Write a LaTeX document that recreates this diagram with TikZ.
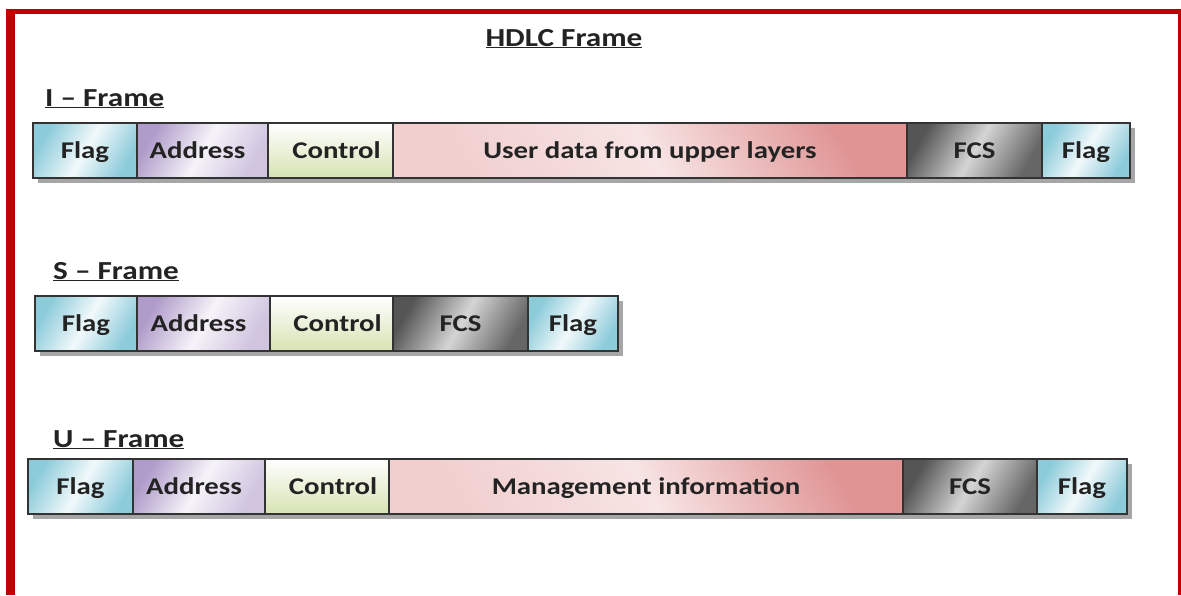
\documentclass[tikz,border=0pt]{standalone}
\usepackage{fontspec}
\setmainfont{Carlito}[FakeStretch=1.2]
\usetikzlibrary{shadows}

\definecolor{edge}{HTML}{C00000}
\definecolor{ink}{HTML}{232323}
\definecolor{flagc}{HTML}{8CCBDA}
\definecolor{addrc}{HTML}{B09CCA}
\definecolor{ctrlc}{HTML}{D6E3B2}
\definecolor{datac}{HTML}{E09494}
\definecolor{fcsc}{HTML}{555555}

\tikzset{
  txt/.style={font=\bfseries\fontsize{24}{26}\selectfont, text=ink},
  bigtxt/.style={font=\bfseries\fontsize{26}{28}\selectfont, text=ink},
  % move a field's text sideways by half the given amount
  textshift/.style={execute at begin node={\hspace*{#1}}},
  field/.style={txt, draw=black!80, line width=1.3pt, minimum height=55pt,
    anchor=north west, inner sep=0pt, outer sep=0pt, text height=15pt, text depth=0pt,
    drop shadow={shadow xshift=5pt, shadow yshift=-5pt, fill=gray!70, opacity=1}},
  flagf/.style={field, left color=flagc, right color=flagc, middle color=flagc!12, shading angle=60},
  addrf/.style={field, textshift=-10pt, left color=addrc, right color=addrc!60, middle color=addrc!12, shading angle=60},
  ctrlf/.style={field, textshift=12pt, top color=white, bottom color=ctrlc},
  dataf/.style={field, left color=datac!45, right color=datac, middle color=datac!25, shading angle=120},
  fcsf/.style={field, left color=fcsc, right color=fcsc!90, middle color=fcsc!25, shading angle=60},
  heading/.style={bigtxt, anchor=base west, inner sep=0pt}
}

\begin{document}
\begin{tikzpicture}[x=1pt, y=-1pt]
  \useasboundingbox (0,0) rectangle (1181,595);
  \fill[white] (0,0) rectangle (1181,595);

  % red page border (top, left, right)
  \draw[edge, line width=5pt] (6,11.5) -- (1181,11.5);
  \draw[edge, line width=9pt] (10.5,9) -- (10.5,595);
  \draw[edge, line width=4pt] (1179.5,9) -- (1179.5,595);

  % title
  \node[bigtxt, anchor=base, inner sep=0pt] (title) at (564,46) {\underline{HDLC Frame}};

  % I-frame
  \node[heading] (ilbl) at (45,106) {\underline{I – Frame}};
  \node[flagf, minimum width=104pt] (i1) at (33,123) {Flag};
  \node[addrf, minimum width=131pt] (i2) at (i1.north east) {Address};
  \node[ctrlf, minimum width=125pt] (i3) at (i2.north east) {Control};
  \node[dataf, minimum width=514pt] (i4) at (i3.north east) {User data from upper layers};
  \node[fcsf,  minimum width=135pt] (i5) at (i4.north east) {FCS};
  \node[flagf, minimum width=88pt]  (i6) at (i5.north east) {Flag};

  % S-frame
  \node[heading] (slbl) at (53,279) {\underline{S – Frame}};
  \node[flagf, minimum width=102pt] (s1) at (35,296) {Flag};
  \node[addrf, minimum width=133pt] (s2) at (s1.north east) {Address};
  \node[ctrlf, minimum width=123pt] (s3) at (s2.north east) {Control};
  \node[fcsf,  minimum width=135pt] (s4) at (s3.north east) {FCS};
  \node[flagf, minimum width=90pt]  (s5) at (s4.north east) {Flag};

  % U-frame
  \node[heading] (ulbl) at (53,447) {\underline{U – Frame}};
  \node[flagf, minimum width=105pt] (u1) at (28,459) {Flag};
  \node[addrf, minimum width=132pt] (u2) at (u1.north east) {Address};
  \node[ctrlf, minimum width=124pt] (u3) at (u2.north east) {Control};
  \node[dataf, minimum width=514pt] (u4) at (u3.north east) {Management information};
  \node[fcsf,  minimum width=134pt] (u5) at (u4.north east) {FCS};
  \node[flagf, minimum width=90pt]  (u6) at (u5.north east) {Flag};
\end{tikzpicture}
\end{document}
